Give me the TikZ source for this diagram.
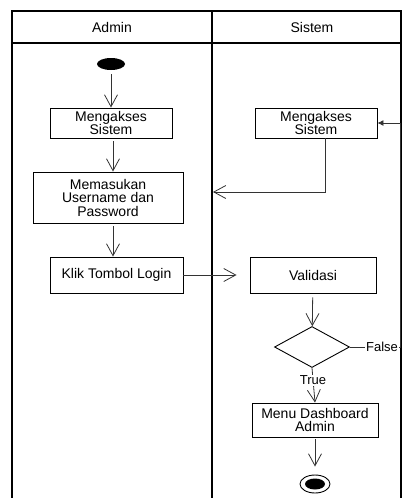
\documentclass[tikz,border=0pt]{standalone}
\usepackage{fontspec}
\setmainfont{Liberation Sans}
\usepackage{tikz}
\usetikzlibrary{shapes.geometric, arrows.meta, positioning}
\tikzset{
  lane/.style={draw=black, line width=1.3pt},
  act/.style={
    rectangle, draw=black, fill=white, line width=0.9pt,
    font=\fontsize{14}{13.5}\selectfont, align=center, inner sep=1pt
  },
  decision/.style={
    diamond, draw=black, fill=white, line width=0.9pt,
    minimum width=75pt, minimum height=41pt, inner sep=0pt
  },
  startnode/.style={ellipse, fill=black, minimum width=28pt, minimum height=12pt, inner sep=0pt},
  endnode/.style={ellipse, draw=black, line width=0.9pt, minimum width=30pt, minimum height=18pt, inner sep=0pt},
  endcore/.style={ellipse, fill=black, minimum width=20pt, minimum height=11pt, inner sep=0pt},
  arrow/.style={-{Straight Barb[length=12pt,width=13pt]}, line width=0.8pt, draw=black!80},
  fbarrow/.style={-{Latex[length=6pt,width=6pt]}, line width=0.8pt, draw=black!80},
  guard/.style={fill=white, inner sep=1pt, font=\fontsize{13}{13}\selectfont},
}

\begin{document}
\begin{tikzpicture}[x=1pt, y=-1pt]
    \useasboundingbox (0,0) rectangle (403,498);

    %% Swimlanes
    \draw[lane] (12,498) -- (12,11) -- (401,11) -- (401,498);
    \draw[lane] (12,43) -- (401,43);
    \draw[lane] (212,11) -- (212,498);
    \node[font=\fontsize{14}{14}\selectfont] (hadmin) at (112,27) {Admin};
    \node[font=\fontsize{14}{14}\selectfont] (hsistem) at (312,27) {Sistem};

    %% Admin lane
    \node[startnode] (start) at (111,64) {};
    \node[act, minimum width=122pt, minimum height=30pt] (akses) at (111,123) {Mengakses\\Sistem};
    \node[act, minimum width=150pt, minimum height=51pt] (input) at (108,197.5) {Memasukan\\Username dan\\Password};
    \node[act, minimum width=133pt, minimum height=36pt] (login) at (116.5,275) {Klik Tombol Login};

    %% Sistem lane
    \node[act, minimum width=122pt, minimum height=30pt] (sakses) at (316,123) {Mengakses\\Sistem};
    \node[act, minimum width=126pt, minimum height=36pt] (validasi) at (313,275) {Validasi};
    \node[decision] (cek) at (312,347) {};
    \node[act, minimum width=126pt, minimum height=34pt] (dashboard) at (315,420) {Menu Dashboard\\Admin};
    \node[endnode] (finish) at (315,484) {};
    \node[endcore] at (finish.center) {};

    \coordinate (lanein) at (213,192);
    \coordinate (loop) at (400,347);

    %% Arrows
    \draw[arrow, shorten <=4pt] (start) -- (akses);
    \draw[arrow, shorten <=3pt] ([xshift=2pt]akses.south) -- ([xshift=2pt]input.north -| akses.south);
    \draw[arrow, shorten <=3pt] ([xshift=5pt]input.south) -- ([xshift=5pt]input.south |- login.north);
    \draw[arrow] ([xshift=9pt]sakses.south) |- (lanein);
    \draw[arrow, shorten >=13pt] (login) -- (validasi);
    \draw[arrow, shorten <=4pt] (validasi) -- (cek);
    \draw[fbarrow] (cek.east) -- node[guard, pos=0.64] {False} (loop) |- (sakses.east);
    \draw[arrow] (cek.south) -- node[guard, pos=0.35] {True} (dashboard.north);
    \draw[arrow, shorten <=2pt, shorten >=8pt] (dashboard) -- (finish);

  \end{tikzpicture}
\end{document}
